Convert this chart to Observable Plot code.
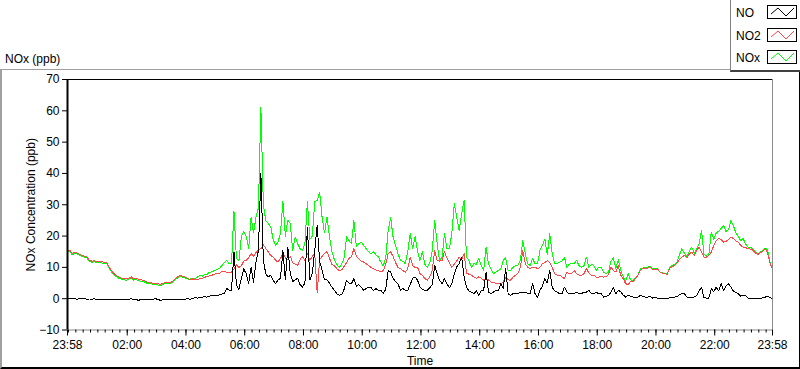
<!DOCTYPE html>
<html><head><meta charset="utf-8">
<script src="https://cdn.jsdelivr.net/npm/d3@7"></script>
<script src="https://cdn.jsdelivr.net/npm/@observablehq/plot@0.6"></script>
<style>
body{margin:0;background:#fff;font-family:"Liberation Sans",Arial,sans-serif;}
#wrap{position:relative;width:800px;height:369px;overflow:hidden;background:#fff;}
#panel{position:absolute;left:0;top:69px;width:797px;height:297px;border-top:1px solid #a0a0a0;border-left:2px solid #a0a0a0;border-bottom:2px solid #000;border-right:1px solid #000;z-index:0;}
#chart{position:absolute;left:0;top:0;z-index:1;}
#title{position:absolute;left:5px;top:52px;font-size:12px;line-height:14px;color:#000;z-index:2;}
#legend{position:absolute;left:730px;top:0;width:70px;height:72px;box-sizing:border-box;background:#fff;border-left:1px solid #808080;border-bottom:2px solid #404040;z-index:3;}
.lt{position:absolute;left:5px;font-size:12px;line-height:14px;color:#000;}
.sw{position:absolute;left:36px;width:30px;height:14px;box-sizing:border-box;border:1px solid #000;background:#fff;}
.sw svg{display:block;}
</style></head>
<body>
<div id="wrap">
  <div id="panel"></div>
  <div id="chart"></div>
  <div id="title">NOx (ppb)</div>
  <div id="legend"></div>
</div>
<script>
// 5-minute samples starting at 23:58 (previous day) through 23:58
const seriesNames = ["NO", "NO2", "NOx"];
const seriesColors = ["#000000", "#ff4747", "#00ff00"];
const startLabel = "23:58";
const yTicks = [-10, 0, 10, 20, 30, 40, 50, 60, 70];
const majorHours = [2, 4, 6, 8, 10, 12, 14, 16, 18, 20, 22];

const no2 = [
15.6,15.4,14.4,14.9,14.6,14.2,13.8,13.6,13.3,12.2,
12.0,12.1,11.8,12.0,11.8,11.6,11.5,10.0,9.0,8.0,
7.4,6.9,6.6,6.4,6.3,6.6,7.0,6.3,6.5,6.2,
6.0,5.9,5.5,5.2,5.2,4.9,4.8,4.8,4.6,4.9,
5.1,5.0,5.1,5.6,6.3,7.0,7.5,7.2,6.9,6.5,
6.2,6.3,6.0,6.2,6.3,6.4,6.8,7.1,7.3,7.5,
7.8,8.0,8.1,8.6,8.7,8.4,8.2,8.5,9.5,10.8,
10.0,10.5,12.0,12.2,13.0,14.4,13.5,14.8,15.5,16.0,
17.3,16.0,15.0,13.8,13.3,12.3,11.7,12.8,14.4,13.0,
12.5,13.5,11.5,11.0,10.6,12.5,13.5,12.0,14.4,12.2,
13.5,14.4,1.8,12.5,13.5,14.5,15.0,13.0,11.0,10.6,
9.6,9.0,9.2,10.3,11.5,12.8,13.5,16.0,13.5,12.8,
12.0,11.7,11.2,10.6,10.0,9.6,9.2,9.0,8.5,9.0,
11.0,14.4,15.0,13.5,11.5,10.0,9.6,9.0,8.5,9.6,
13.3,10.6,10.0,10.0,8.0,7.5,6.4,5.9,7.0,9.0,
15.4,12.2,12.0,12.2,15.0,13.0,11.5,10.0,11.0,12.0,
13.3,12.5,14.4,8.2,7.8,7.5,6.9,6.5,7.0,6.5,
5.9,6.3,6.0,5.3,5.3,4.8,4.8,4.8,5.3,6.9,
6.0,5.9,6.9,7.5,8.0,10.0,15.4,11.2,10.0,9.6,
10.0,10.1,9.6,10.0,11.2,11.5,12.2,11.5,10.0,8.0,
7.5,7.5,7.0,6.4,8.5,8.0,8.2,9.0,8.0,7.5,
7.5,8.0,9.6,8.2,7.5,7.5,6.9,6.9,7.2,6.9,
7.0,7.8,10.1,9.0,8.5,10.5,7.5,6.4,4.8,4.5,
5.5,5.3,6.4,7.5,9.0,9.6,9.6,9.8,10.1,9.3,
9.2,9.6,8.5,8.2,8.0,7.8,9.8,10.2,10.6,11.5,
12.5,13.3,13.8,13.0,14.2,14.9,13.8,15.4,16.5,15.0,
13.3,13.3,13.8,14.9,17.0,18.5,19.2,19.0,18.0,18.3,
18.8,19.7,19.2,18.5,18.0,17.0,16.5,16.3,16.0,15.8,
15.5,14.6,14.1,14.6,15.2,16.0,14.5,11.2,9.4
];

const nox = [
15.3,15.0,14.0,14.6,14.3,13.9,13.4,13.3,13.0,11.8,
11.6,11.8,11.5,11.7,11.4,11.3,11.2,9.7,8.6,7.6,
7.0,6.5,6.2,6.0,5.9,6.2,6.6,5.9,6.1,5.8,
5.6,5.5,5.1,4.8,4.8,4.5,4.4,4.4,4.2,4.6,
4.8,4.7,4.8,5.3,6.0,6.7,7.2,6.9,6.6,6.3,
6.2,6.5,6.4,6.8,7.5,7.2,7.6,7.8,8.4,8.6,
9.0,9.3,9.6,10.5,11.5,12.2,11.2,11.2,28.0,13.0,
12.0,19.7,21.5,20.0,16.0,26.0,21.0,26.0,29.0,61.0,
30.0,25.0,24.0,23.0,19.0,17.0,18.0,21.0,31.0,20.0,
25.0,24.0,15.4,19.7,17.6,16.0,15.4,17.6,31.0,19.0,
20.0,31.0,31.4,34.0,26.0,21.0,26.0,20.0,15.0,12.5,
11.0,10.0,11.0,13.0,19.7,18.6,17.6,25.0,16.5,17.6,
18.0,17.0,16.0,15.0,14.4,15.0,14.0,13.3,11.7,10.5,
13.0,21.8,26.0,19.7,17.0,14.4,12.2,12.0,11.2,15.0,
20.8,16.0,20.0,15.0,12.2,15.0,11.0,10.0,11.5,15.4,
25.0,17.6,12.2,13.3,20.8,16.0,16.0,20.8,30.4,26.0,
21.8,27.0,31.4,13.3,12.2,10.0,11.2,11.0,12.8,10.5,
9.0,16.5,11.0,9.5,8.0,8.5,9.0,9.5,12.2,13.0,
9.0,9.0,10.0,10.5,10.6,12.2,18.6,14.4,11.2,10.6,
12.8,11.2,11.2,15.4,17.0,19.0,14.0,20.8,14.5,11.2,
11.2,11.7,12.0,13.3,10.0,11.0,11.2,11.2,12.2,10.5,
10.0,10.6,13.3,10.0,11.0,10.6,9.0,10.0,10.0,8.5,
8.0,8.5,12.0,13.0,9.5,12.5,9.0,7.0,5.5,8.0,
6.0,5.8,6.5,7.5,9.5,9.8,10.0,10.0,10.5,9.6,
9.5,9.6,8.5,8.3,8.0,8.0,10.0,10.6,11.0,11.7,
14.0,16.0,14.5,13.5,15.0,16.5,14.5,16.0,17.5,21.8,
14.0,13.8,14.2,21.3,19.0,21.0,21.5,22.4,23.4,21.5,
22.0,25.0,23.4,21.0,20.0,18.5,19.2,17.5,16.5,16.5,
15.8,14.9,14.3,14.8,15.5,16.2,15.5,11.5,9.3
];

const no = [
0.1,-0.1,0.2,0.0,-0.2,0.1,-0.1,0.0,-0.2,-0.1,
-0.2,0.0,-0.3,-0.2,-0.1,-0.3,-0.2,-0.3,-0.2,-0.3,
-0.3,-0.2,-0.4,-0.3,-0.2,-0.3,0.0,-0.4,-0.3,-0.5,
-0.3,-0.4,-0.2,-0.3,-0.4,-0.2,0.0,-0.3,-0.5,-0.4,
-0.3,-0.2,-0.3,-0.2,-0.4,-0.3,-0.2,-0.3,-0.2,0.1,
-0.2,0.0,0.3,0.2,0.3,0.5,0.6,0.5,0.8,1.0,
0.9,1.0,1.2,1.5,1.6,3.3,2.7,2.6,15.0,4.5,
2.8,6.5,9.5,8.0,5.0,10.0,5.3,11.7,15.4,40.0,
12.2,8.0,6.9,7.5,5.9,4.8,6.0,6.5,15.4,6.0,
16.5,8.0,5.5,6.0,6.5,4.5,3.7,5.0,22.9,6.0,
8.0,15.4,23.4,12.0,9.0,6.0,6.0,5.0,3.7,2.7,
1.6,1.1,1.3,3.0,5.9,5.0,4.8,6.4,4.0,4.5,
3.7,2.7,3.2,3.7,3.5,2.7,3.2,2.7,2.7,1.6,
3.0,9.0,8.5,6.5,5.5,4.8,2.7,3.2,2.7,2.7,
4.5,6.5,6.9,5.9,3.7,3.0,2.7,2.7,3.5,4.5,
10.6,8.0,5.9,4.8,6.4,4.8,3.5,4.8,8.0,10.1,
11.2,13.3,7.0,3.7,2.5,2.1,1.6,2.5,1.1,2.5,
2.7,8.5,2.1,1.6,2.1,2.7,2.5,4.8,3.2,9.6,
1.6,1.1,1.6,1.6,1.6,2.1,2.1,2.1,1.6,1.6,
4.8,1.6,0.5,2.7,4.0,6.4,5.0,9.0,3.7,2.5,
2.1,1.6,1.6,3.7,2.1,1.6,1.6,1.6,2.1,1.6,
1.6,2.1,2.1,2.7,1.6,1.6,2.1,1.6,1.6,0.5,
0.8,1.0,2.0,3.7,1.5,2.7,2.2,1.2,0.5,1.0,
0.8,0.5,0.5,0.5,1.0,0.8,0.5,0.5,0.8,0.2,
0.3,0.2,0.2,0.1,0.0,0.0,0.3,0.5,0.5,0.7,
1.2,1.6,1.6,0.5,0.5,0.5,0.5,1.0,2.5,3.7,
0.3,0.2,0.2,3.2,2.2,3.7,2.5,4.8,2.5,4.0,
4.8,3.7,2.5,2.0,1.6,0.8,1.0,1.0,0.2,0.0,
0.0,0.0,0.0,0.0,0.3,0.5,0.8,0.3,0.0
];

const stepMs = 5 * 60 * 1000;
const start = new Date(Date.UTC(2020, 0, 1, 23, 58));
const end = new Date(start.getTime() + 24 * 60 * 60 * 1000);
const toRows = (vals) => vals.map((v, i) => ({t: new Date(start.getTime() + i * stepMs), v}));

const day = (h, m) => new Date(Date.UTC(2020, 0, 2, h, m));
const majorTicks = [start, ...majorHours.map(h => day(h, 0)), end];
const minorTicks = [];
for (let m = 0; m < 24 * 60; m += 15) minorTicks.push(day(Math.floor(m / 60), m % 60));
const fmt = d3.utcFormat("%H:%M");

const chart = Plot.plot({
  width: 800,
  height: 369,
  marginLeft: 67,
  marginRight: 28,
  marginTop: 79,
  marginBottom: 39.5,
  style: {background: "transparent", fontFamily: "'Liberation Sans', Arial, sans-serif", fontSize: "12px", color: "#000"},
  x: {type: "utc", domain: [start, end]},
  y: {domain: [-10, 70]},
  marks: [
    Plot.line(toRows(nox), {x: "t", y: "v", stroke: seriesColors[2], strokeWidth: 1, curve: "linear", shapeRendering: "crispEdges"}),
    Plot.line(toRows(no2), {x: "t", y: "v", stroke: seriesColors[1], strokeWidth: 1, curve: "linear", shapeRendering: "crispEdges"}),
    Plot.line(toRows(no), {x: "t", y: "v", stroke: seriesColors[0], strokeWidth: 1, curve: "linear", shapeRendering: "crispEdges"}),
    Plot.ruleY([70], {stroke: "#000", strokeWidth: 1}),
    Plot.ruleY([-10], {stroke: "#8a8a8a", strokeWidth: 1}),
    Plot.ruleX([end], {stroke: "#8a8a8a", strokeWidth: 1}),
    Plot.ruleX([start], {stroke: "#000", strokeWidth: 2}),
    Plot.axisY(yTicks, {tickSize: 5, tickPadding: 3, fontSize: 12, label: null, stroke: "#000"}),
    Plot.axisX(minorTicks, {tickSize: 3, tickFormat: () => "", label: null, stroke: "#000"}),
    Plot.axisX(majorTicks, {tickSize: 6, tickPadding: 4, tickFormat: fmt, fontSize: 12, label: null, stroke: "#000"}),
    Plot.text(["Time"], {frameAnchor: "bottom", dy: 35, lineAnchor: "bottom", textAnchor: "middle", fontSize: 12}),
    Plot.text(["NOx Concentration (ppb)"], {frameAnchor: "left", dx: -36, rotate: -90, textAnchor: "middle", lineAnchor: "middle", fontSize: 12})
  ]
});
document.getElementById("chart").appendChild(chart);

// legend
const legend = document.getElementById("legend");
seriesNames.forEach((name, k) => {
  const top = 22.5 * k;
  const t = document.createElement("div");
  t.className = "lt";
  t.style.top = (6 + top) + "px";
  t.textContent = name;
  legend.appendChild(t);
  const sw = document.createElement("div");
  sw.className = "sw";
  sw.style.top = (5 + top) + "px";
  sw.innerHTML = `<svg width="28" height="12"><polyline points="3,8 10,2 18,10 26,2" fill="none" stroke="${seriesColors[k]}" stroke-width="1"/></svg>`;
  legend.appendChild(sw);
});
</script>
</body></html>
